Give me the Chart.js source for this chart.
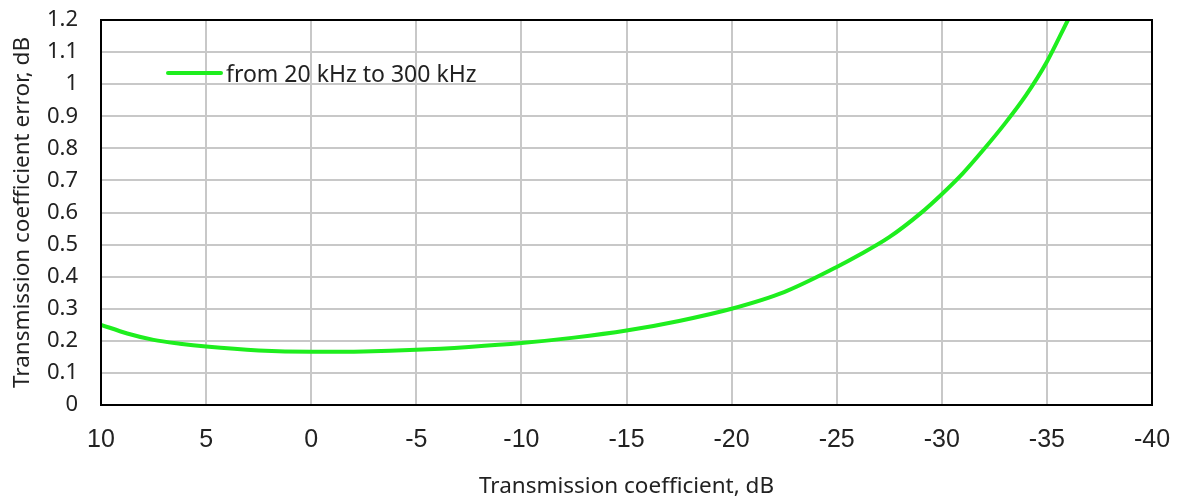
<!DOCTYPE html>
<html>
<head>
<meta charset="utf-8">
<script src="https://cdn.jsdelivr.net/npm/chart.js@4/dist/chart.umd.min.js"></script>
<style>
  html, body { margin: 0; padding: 0; background: #fff; }
  #wrap { position: relative; width: 1177px; height: 500px; }
  #legend {
    position: absolute; left: 166px; top: 59px; height: 28px;
    display: flex; align-items: center;
    font-family: 'Noto Sans', sans-serif; font-size: 23px; color: #222;
  }
  #legend .swatch { width: 57px; height: 4px; border-radius: 2px; background: #1eee1e; margin-right: 3px; }
</style>
</head>
<body>
<div id="wrap">
  <canvas id="chart" width="1177" height="500"></canvas>
  <div id="legend"><span class="swatch"></span><span>from 20 kHz to 300 kHz</span></div>
</div>
<script>
// transmission coefficient, dB (x) and its error, dB (y)
const coefficient = [10, 8.75, 7.5, 6.25, 5, 2.5, 0, -2.5, -5, -7.5, -10, -12.5, -15, -17.5, -20, -22.5, -25, -26, -27.5, -29, -30, -31, -32, -33, -34, -35, -36];
const errorDb = [0.25, 0.223, 0.203, 0.191, 0.182, 0.17, 0.166, 0.167, 0.172, 0.181, 0.193, 0.21, 0.232, 0.262, 0.3, 0.352, 0.43, 0.465, 0.523, 0.598, 0.657, 0.722, 0.797, 0.877, 0.965, 1.07, 1.2];
const seriesLabel = 'from 20 kHz to 300 kHz';

const xTitle = 'Transmission coefficient, dB';
const yTitle = 'Transmission coefficient error, dB';

/* Black frame round the plot, on all four sides. */
const frame = {
  id: 'frame',
  afterDatasetsDraw(chart) {
    const { ctx, chartArea: a } = chart;
    ctx.save();
    ctx.strokeStyle = '#000';
    ctx.lineWidth = 2;
    ctx.strokeRect(a.left, a.top, a.right - a.left, a.bottom - a.top);
    ctx.restore();
  },
};

/* Fixed plot box: no extra room for labels that hang over the ends. */
function noOverhang(scale) {
  scale.paddingLeft = 0;
  scale.paddingRight = 0;
  scale.paddingTop = 0;
  scale.paddingBottom = 0;
}

new Chart(document.getElementById('chart'), {
  type: 'line',
  data: {
    datasets: [{
      label: seriesLabel,
      data: coefficient.map((x, i) => ({ x, y: errorDb[i] })),
      borderColor: '#1eee1e',
      borderWidth: 4,
      pointRadius: 0,
      cubicInterpolationMode: 'monotone',
      fill: false,
    }],
  },
  options: {
    responsive: false,
    animation: false,
    layout: { padding: { top: 20, right: 25, bottom: 0, left: 0 } },
    plugins: { legend: { display: false }, tooltip: { enabled: false } },
    scales: {
      x: {
        type: 'linear',
        reverse: true,
        min: -40,
        max: 10,
        afterFit(scale) { scale.height = 95; noOverhang(scale); },
        grid: { color: '#c8c8c8', lineWidth: 2, drawTicks: false },
        border: { display: false },
        ticks: {
          stepSize: 5,
          padding: 20,
          color: '#222',
          font: { family: "'Liberation Sans', Arial, sans-serif", size: 25 },
        },
        title: {
          display: true,
          text: xTitle,
          color: '#222',
          padding: { top: 0, bottom: 0 },
          font: { family: "'Noto Sans', sans-serif", size: 22.5 },
        },
      },
      y: {
        min: 0,
        max: 1.2,
        afterFit(scale) { scale.width = 101; noOverhang(scale); },
        grid: { color: '#c8c8c8', lineWidth: 2, drawTicks: false },
        border: { display: false },
        ticks: {
          stepSize: 0.1,
          padding: 23,
          color: '#222',
          font: { family: "'Noto Sans', sans-serif", size: 22 },
          callback: (v) => Math.round(v * 10) / 10,
        },
        title: {
          display: true,
          text: yTitle,
          color: '#222',
          padding: { top: 9, bottom: 0 },
          font: { family: "'Noto Sans', sans-serif", size: 22.5 },
        },
      },
    },
  },
  plugins: [frame],
});
</script>
</body>
</html>
